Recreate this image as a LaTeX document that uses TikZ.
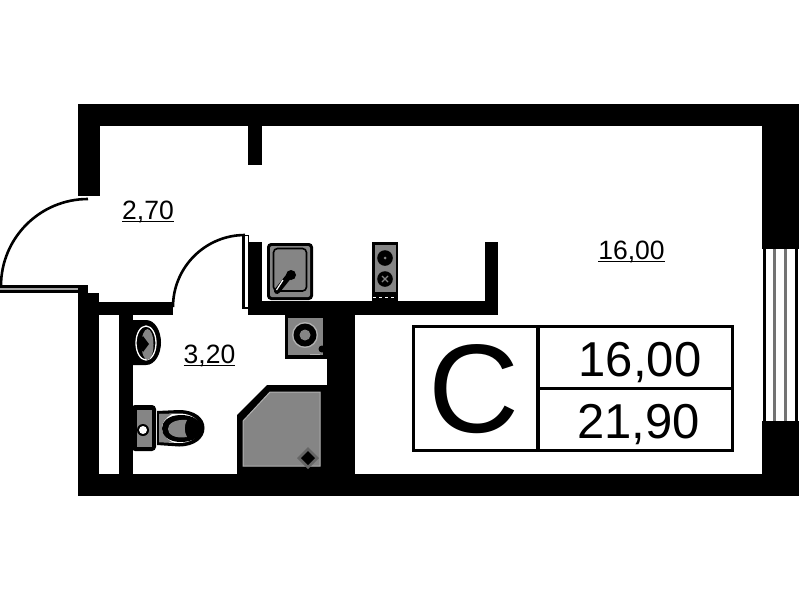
\documentclass[tikz,border=0pt]{standalone}
\usepackage{fontspec}
\setmainfont{Liberation Sans}
\newcommand{\fsz}[1]{\fontsize{#1}{#1}\selectfont}
\newcommand{\ulb}[1]{\setbox0\hbox{#1}\rlap{\rule[-3.4pt]{\wd0}{1.7pt}}\box0}
\definecolor{fix}{HTML}{858585}
\tikzset{
 wall/.style={fill=black,draw=none},
 area/.style={inner sep=0pt,anchor=base,font=\fsz{26.5}},
 big/.style={inner sep=0pt,anchor=base,font=\fsz{49}},
 door/.style={draw=black,line width=2.6pt},
}
\begin{document}
\begin{tikzpicture}[x=1pt,y=-1pt]
\useasboundingbox (0,0) rectangle (799,600);
% outer walls
\fill[wall] (78,104) rectangle (799,126);
\fill[wall] (78,474) rectangle (799,496);
\fill[wall] (78,104) rectangle (100,196);
\fill[wall] (78,293) rectangle (99,496);
\fill[wall] (762,104) rectangle (799,249);
\fill[wall] (762,421) rectangle (799,496);
% window
\fill[black] (763,249) rectangle (766,421);
\fill[black!55] (773,249) rectangle (776,421);
\fill[black!55] (784,249) rectangle (787,421);
\fill[black] (795,249) rectangle (798,421);
% inner walls
\fill[wall] (248,126) rectangle (262,165);
\fill[wall] (99,302) rectangle (173,315);
\fill[wall] (119,302) rectangle (133,480);
\fill[wall] (248,301) rectangle (498,315);
\fill[wall] (248,242) rectangle (262,315);
\fill[wall] (485,242) rectangle (498,315);
\fill[wall] (327,301) rectangle (355,480);
% entrance door
\draw[door] (88,199) arc[start angle=-90,end angle=-180,radius=87];
\fill[black] (0,285) rectangle (88,293);
\fill[black!35] (0,288) rectangle (78,289.5);
% bathroom door
\draw[door] (245,235) arc[start angle=-90,end angle=-180,radius=72];
\draw[black,line width=2.4pt] (243.5,235) -- (243.5,308) -- (248,308);
\draw[black,line width=1pt] (245,235) -- (248,235) -- (248,242);
% sink
\fill[black,rounded corners=4pt] (267,243) rectangle (313,300);
\fill[fix,rounded corners=2pt] (270,246) rectangle (310,297);
\draw[black,line width=1.6pt,rounded corners=4pt] (273.5,248.5) rectangle (306.5,291);
\draw[black,line width=6pt,line cap=round] (277,291) -- (289,276);
\fill[black] (291,275) circle (5);
\draw[white,line width=1.2pt] (276.5,290) -- (283,280);
% stove
\fill[black] (372,242) rectangle (398,301);
\fill[fix] (375,245) rectangle (396,292);
\draw[white,line width=.8pt,dashed] (373,297) -- (396,297);
\fill[black] (385,258) circle (7.8);
\fill[black] (385,279) circle (7.8);
\fill[fix] (385,258) circle (1.5);
\draw[fix,line width=1.2pt] (382,276) -- (388,282) (382,282) -- (388,276);
% washing machine
\fill[black] (285,315) rectangle (327,358.5);
\fill[fix] (288,318) rectangle (323,355);
\fill[black!30] (305,335) circle (13);
\fill[black] (305,335) circle (11.5);
\fill[fix] (305,335) circle (5.5);
\draw[black!30,line width=1pt] (310,354) -- (320,354);
\fill[black] (322,349) circle (3.5);
% wash basin
\fill[black] (133,320) -- (146,320) .. controls (155,320) and (161,331) .. (161,342.5) .. controls (161,354) and (155,365) .. (146,365) -- (133,365) -- cycle;
\draw[white,line width=1.3pt] (146,343) ellipse (10 and 17);
\fill[fix] (147.5,344.5) ellipse (6 and 15.5);
\fill[black] (143,336) -- (149,344) -- (143,352) -- (138,344) -- cycle;
% toilet
\fill[black,rounded corners=4pt] (131,405) rectangle (156,451);
\fill[fix] (137,410) rectangle (152,447);
\fill[black] (143,430) circle (6);
\fill[white] (143,430) circle (4);
\fill[black] (157,411) -- (179,410) .. controls (195,410) and (204.5,418) .. (204.5,428) .. controls (204.5,438) and (195,446.5) .. (179,446.5) -- (157,445) -- cycle;
\fill[white] (159,414) -- (179,413.5) .. controls (192,413.5) and (200,420) .. (200,428) .. controls (200,436) and (192,443) .. (179,443) -- (159,442) -- cycle;
\fill[fix] (159,414) -- (172,414) .. controls (165,418) and (162,423) .. (162,428) .. controls (162,433) and (165,438) .. (172,442) -- (159,442) -- cycle;
\fill[black] (181,415) .. controls (168,415) and (162,422) .. (162,428.5) .. controls (162,435) and (168,442) .. (181,442) .. controls (193,442) and (202,436) .. (202,428.5) .. controls (202,421) and (193,415) .. (181,415) -- cycle;
\fill[fix] (187,420) .. controls (174,419) and (168,424) .. (168,429) .. controls (168,434) and (174,439) .. (187,437) .. controls (184,432) and (184,425) .. (187,420) -- cycle;
% shower
\fill[black] (237,474) -- (237,415) -- (267,385) -- (327,385) -- (327,474) -- cycle;
\fill[fix,draw=black!30,line width=1pt] (243,466) -- (243,421) -- (270,392) -- (320,392) -- (320,466) -- cycle;
\fill[black!60] (308,447) -- (319,458) -- (308,469) -- (297,458) -- cycle;
\fill[black] (308,451) -- (315,458) -- (308,465) -- (301,458) -- cycle;
% table
\draw[black,line width=3pt] (413.5,326.5) rectangle (732,450.5);
\draw[black,line width=3.5pt] (538,326.5) -- (538,450.5);
\draw[black,line width=3pt] (538,388) -- (732,388);
\node[inner sep=0pt,anchor=base,font=\fsz{126}] (cls) at (474,432) {C};
\node[big] (lv) at (640,376) {16,00};
\node[big] (tot) at (638.5,438) {21,90};
% room labels
\node[area] (a1) at (148,219) {\ulb{2,70}};
\node[area] (a2) at (209.5,363) {\ulb{3,20}};
\node[area] (a3) at (631.5,259) {\ulb{16,00}};
\end{tikzpicture}
\end{document}
